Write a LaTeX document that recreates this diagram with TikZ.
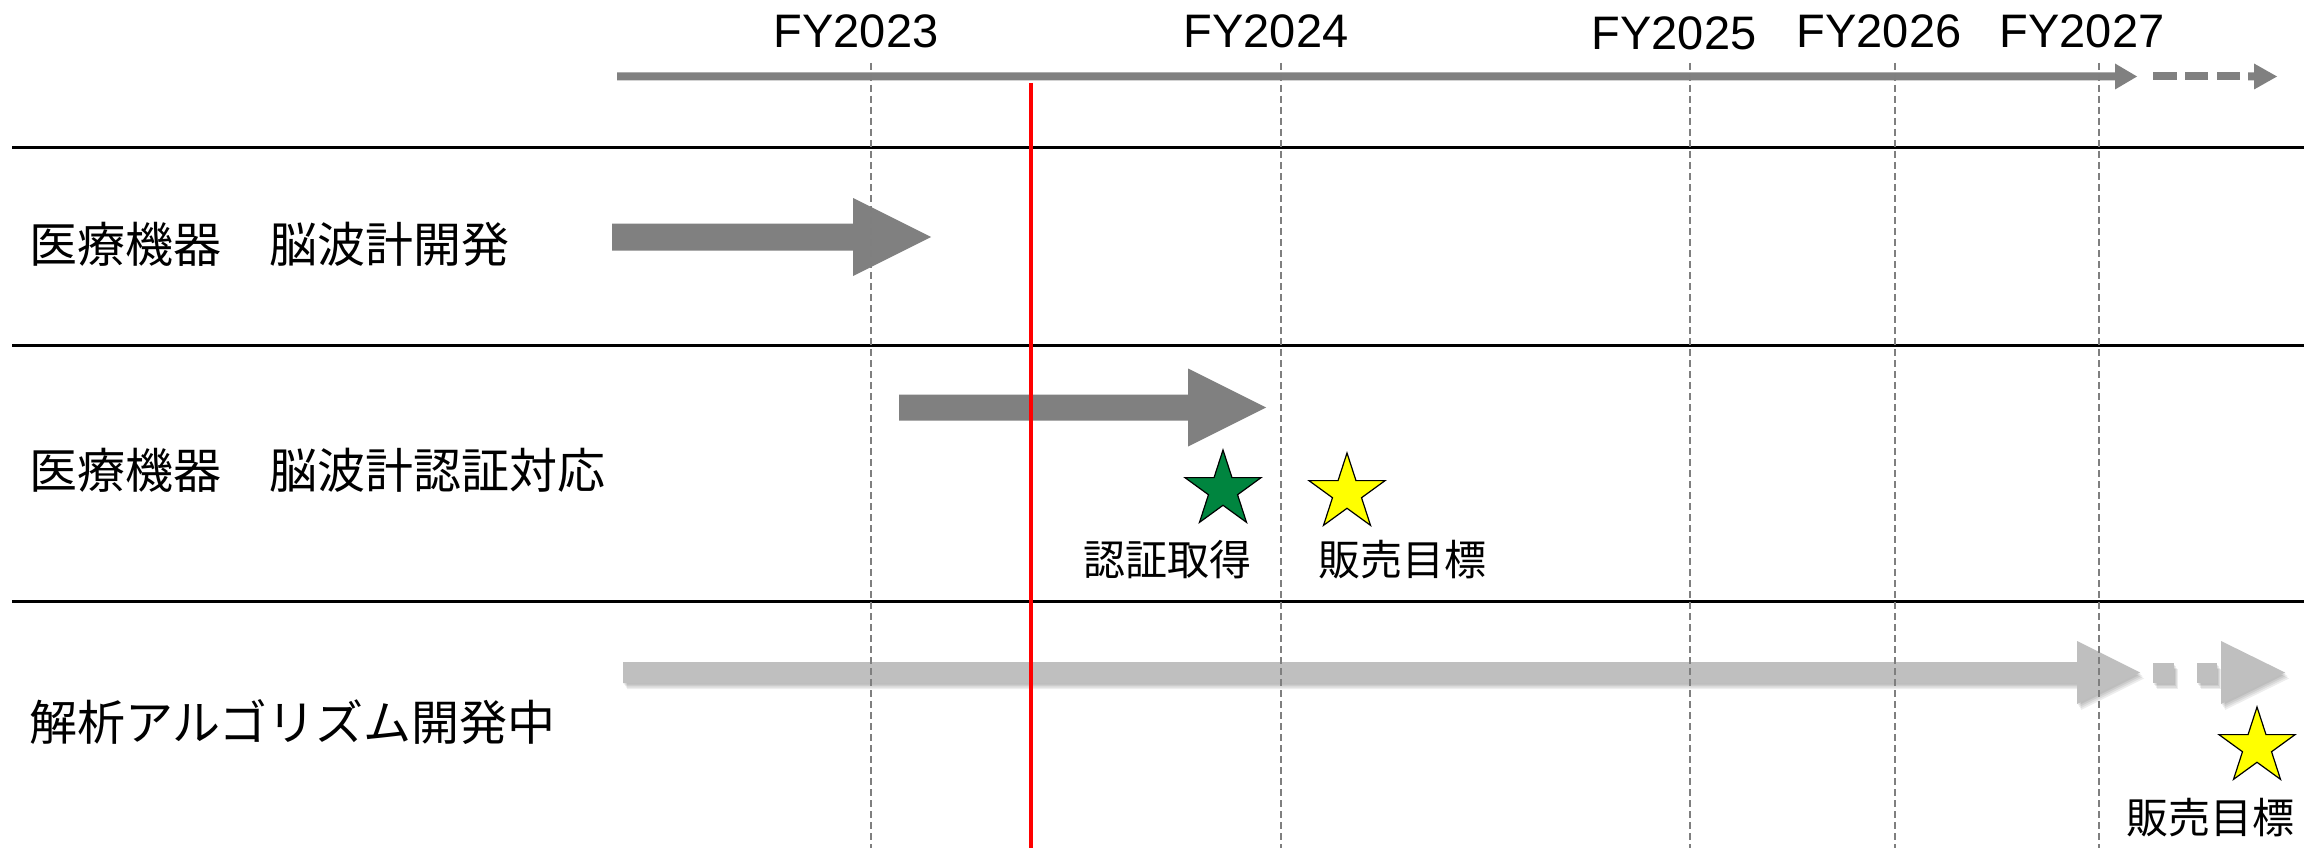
\documentclass[tikz,border=0pt]{standalone}
\usepackage{fontspec}
\setmainfont{Liberation Sans}
\newfontfamily\jp{Noto Sans CJK JP}
\usetikzlibrary{shapes.geometric}
\definecolor{arrowgray}{HTML}{808080}
\definecolor{lightarrow}{HTML}{BFBFBF}
\definecolor{stargreen}{HTML}{00853F}
\definecolor{staryellow}{HTML}{FFFF00}
\definecolor{todayred}{HTML}{FF0000}
\definecolor{gridgray}{HTML}{7F7F7F}
\begin{document}
\begin{tikzpicture}[x=1pt,y=-1pt,
  yearlabel/.style={font=\fontsize{47}{50}\selectfont, anchor=base, inner sep=0pt},
  rowlabel/.style={font=\jp\fontsize{48}{52}\selectfont, anchor=base west, inner sep=0pt},
  starlabel/.style={font=\jp\fontsize{42}{46}\selectfont, anchor=base, inner sep=0pt},
  sepline/.style={line width=3pt, black},
  gridline/.style={line width=1.2pt, gridgray, dash pattern=on 7pt off 4pt},
  starmark/.style={star, star points=5, star point ratio=2.618, minimum size=80pt, inner sep=0pt, draw=black, line width=1.2pt},
  darkbar/.style={fill=arrowgray},
  lightbar/.style={fill=lightarrow},
  barshadow/.style={fill=black, opacity=0.07},
]
\useasboundingbox (0,0) rectangle (2323,848);
\fill[white] (0,0) rectangle (2323,848);

% separators
\draw[sepline] (12,148) -- (2304,148);
\draw[sepline] (12,345) -- (2304,345);
\draw[sepline] (12,601) -- (2304,601);

% year labels
\node[yearlabel] (fy23) at (856,48) {FY2023};
\node[yearlabel] (fy24) at (1266,48) {FY2024};
\node[yearlabel] (fy25) at (1674,50) {FY2025};
\node[yearlabel] (fy26) at (1879,48) {FY2026};
\node[yearlabel] (fy27) at (2082,48) {FY2027};

% top timeline arrow
\fill[darkbar] (617,72.5) -- (2115,72.5) -- (2115,63.5) -- (2137,76.5) -- (2115,89.5) -- (2115,80.5) -- (617,80.5) -- cycle;
\fill[darkbar] (2153,72.5) rectangle (2177,80.5);
\fill[darkbar] (2185,72.5) rectangle (2208,80.5);
\fill[darkbar] (2217,72.5) rectangle (2240,80.5);
\fill[darkbar] (2248,72.5) -- (2254,72.5) -- (2254,63.5) -- (2277,76.5) -- (2254,89.5) -- (2254,80.5) -- (2248,80.5) -- cycle;

% row labels
\node[rowlabel] (r1) at (29,262) {医療機器　脳波計開発};
\node[rowlabel] (r2) at (29,488) {医療機器　脳波計認証対応};
\node[rowlabel] (r3) at (29,740) {解析アルゴリズム開発中};

% row 1 arrow
\fill[darkbar] (612,223.5) -- (853,223.5) -- (853,198) -- (931,237) -- (853,276) -- (853,250.5) -- (612,250.5) -- cycle;
% row 2 arrow
\fill[darkbar] (899,394.5) -- (1188,394.5) -- (1188,368.5) -- (1266,407.5) -- (1188,446.5) -- (1188,420.5) -- (899,420.5) -- cycle;

% row 3 arrow with soft shadow
\foreach \sx/\sy in {1/1.5, 2/3, 3/4.5, 4/6} {
\begin{scope}[shift={(\sx,\sy)}]
\fill[barshadow] (623,662) -- (2077,662) -- (2077,641) -- (2140,672.5) -- (2077,704) -- (2077,683) -- (623,683) -- cycle;
\fill[barshadow] (2153,663) rectangle (2174,683);
\fill[barshadow] (2197,663) rectangle (2217,683);
\fill[barshadow] (2221,641) -- (2285,672.5) -- (2221,704) -- cycle;
\end{scope}
}
\fill[lightbar] (623,662) -- (2077,662) -- (2077,641) -- (2140,672.5) -- (2077,704) -- (2077,683) -- (623,683) -- cycle;
\fill[lightbar] (2153,663) rectangle (2174,683);
\fill[lightbar] (2197,663) rectangle (2217,683);
\fill[lightbar] (2221,641) -- (2285,672.5) -- (2221,704) -- cycle;

% grid lines
\foreach \gx in {871,1281,1690,1895,2099} {
  \draw[gridline] (\gx,63) -- (\gx,848);
}

% today line
\coordinate (todaytop) at (1031,83);
\coordinate (todaybot) at (1031,848);
\draw[todayred, line width=4pt] (todaytop) -- (todaybot);

% stars and labels
\node[starmark, fill=stargreen] (s1) at (1223,490) {};
\node[starmark, fill=staryellow] (s2) at (1347,493) {};
\node[starmark, fill=staryellow] (s3) at (2257,747) {};
\node[starlabel] (l1) at (1167,575.5) {認証取得};
\node[starlabel] (l2) at (1402,575.5) {販売目標};
\node[starlabel] (l3) at (2210,833.5) {販売目標};
\end{tikzpicture}
\end{document}
